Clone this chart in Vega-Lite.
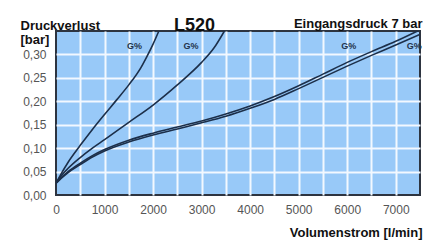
{
  "$schema": "https://vega.github.io/schema/vega-lite/v6.json",
  "width": 364,
  "height": 164,
  "autosize": {"type": "none"},
  "padding": {"left": 56, "top": 31, "right": 18, "bottom": 47},
  "background": "white",
  "config": {
    "font": "Liberation Sans",
    "view": {"fill": "#98c9f8", "stroke": "#2d3440", "strokeWidth": 2}
  },
  "title": {
    "text": "L520",
    "anchor": "start",
    "dx": 154,
    "dy": 18,
    "offset": 0,
    "fontSize": 18,
    "fontWeight": "bold",
    "color": "#111111",
    "font": "Liberation Sans"
  },
  "datasets": {
    "curves": [
      {"q": 0, "p": 0.025, "c": "A"},
      {"q": 100, "p": 0.044, "c": "A"},
      {"q": 250, "p": 0.07, "c": "A"},
      {"q": 500, "p": 0.106, "c": "A"},
      {"q": 750, "p": 0.14, "c": "A"},
      {"q": 1000, "p": 0.172, "c": "A"},
      {"q": 1250, "p": 0.203, "c": "A"},
      {"q": 1500, "p": 0.235, "c": "A"},
      {"q": 1750, "p": 0.272, "c": "A"},
      {"q": 1875, "p": 0.296, "c": "A"},
      {"q": 2000, "p": 0.322, "c": "A"},
      {"q": 2120, "p": 0.35, "c": "A"},
      {"q": 0, "p": 0.025, "c": "B"},
      {"q": 100, "p": 0.04, "c": "B"},
      {"q": 250, "p": 0.057, "c": "B"},
      {"q": 500, "p": 0.08, "c": "B"},
      {"q": 750, "p": 0.1, "c": "B"},
      {"q": 1000, "p": 0.118, "c": "B"},
      {"q": 1500, "p": 0.155, "c": "B"},
      {"q": 2000, "p": 0.192, "c": "B"},
      {"q": 2500, "p": 0.235, "c": "B"},
      {"q": 3000, "p": 0.283, "c": "B"},
      {"q": 3250, "p": 0.313, "c": "B"},
      {"q": 3470, "p": 0.35, "c": "B"},
      {"q": 0, "p": 0.025, "c": "C"},
      {"q": 100, "p": 0.036, "c": "C"},
      {"q": 250, "p": 0.05, "c": "C"},
      {"q": 500, "p": 0.068, "c": "C"},
      {"q": 750, "p": 0.084, "c": "C"},
      {"q": 1000, "p": 0.097, "c": "C"},
      {"q": 1500, "p": 0.117, "c": "C"},
      {"q": 2000, "p": 0.132, "c": "C"},
      {"q": 2500, "p": 0.145, "c": "C"},
      {"q": 3000, "p": 0.158, "c": "C"},
      {"q": 3500, "p": 0.173, "c": "C"},
      {"q": 4000, "p": 0.19, "c": "C"},
      {"q": 4500, "p": 0.21, "c": "C"},
      {"q": 5000, "p": 0.233, "c": "C"},
      {"q": 5500, "p": 0.258, "c": "C"},
      {"q": 6000, "p": 0.283, "c": "C"},
      {"q": 6500, "p": 0.306, "c": "C"},
      {"q": 7000, "p": 0.328, "c": "C"},
      {"q": 7450, "p": 0.35, "c": "C"},
      {"q": 0, "p": 0.025, "c": "D"},
      {"q": 100, "p": 0.035, "c": "D"},
      {"q": 250, "p": 0.048, "c": "D"},
      {"q": 500, "p": 0.065, "c": "D"},
      {"q": 750, "p": 0.081, "c": "D"},
      {"q": 1000, "p": 0.094, "c": "D"},
      {"q": 1500, "p": 0.113, "c": "D"},
      {"q": 2000, "p": 0.128, "c": "D"},
      {"q": 2500, "p": 0.141, "c": "D"},
      {"q": 3000, "p": 0.154, "c": "D"},
      {"q": 3500, "p": 0.168, "c": "D"},
      {"q": 4000, "p": 0.185, "c": "D"},
      {"q": 4500, "p": 0.204, "c": "D"},
      {"q": 5000, "p": 0.227, "c": "D"},
      {"q": 5500, "p": 0.251, "c": "D"},
      {"q": 6000, "p": 0.275, "c": "D"},
      {"q": 6500, "p": 0.298, "c": "D"},
      {"q": 7000, "p": 0.32, "c": "D"},
      {"q": 7500, "p": 0.343, "c": "D"}
    ],
    "labels": [
      {"q": 1620, "p": 0.318, "t": "G%"},
      {"q": 2780, "p": 0.318, "t": "G%"},
      {"q": 6030, "p": 0.318, "t": "G%"},
      {"q": 7380, "p": 0.318, "t": "G%"}
    ]
  },
  "encoding": {
    "y": {
      "field": "p",
      "type": "quantitative",
      "scale": {"domain": [0, 0.35], "nice": false},
      "axis": {
        "values": [0, 0.05, 0.1, 0.15, 0.2, 0.25, 0.3],
        "labelExpr": "replace(format(datum.value, '.2f'), '.', ',')",
        "labelOverlap": false,
        "grid": true,
        "gridColor": {"condition": {"test": "datum.value === 0", "value": "rgba(0,0,0,0)"}, "value": "#f2f8ff"},
        "gridWidth": 2,
        "ticks": false,
        "domain": false,
        "labelPadding": 10,
        "labelFontSize": 12,
        "labelColor": "#555555",
        "labelFont": "Liberation Sans",
        "title": ["Druckverlust", "[bar]"],
        "titleAngle": 0,
        "titleAlign": "left",
        "titleBaseline": "top",
        "titleX": -36,
        "titleY": -12,
        "titleLineHeight": 14,
        "titleFontSize": 13,
        "titleFontWeight": "bold",
        "titleColor": "#111111",
        "titleFont": "Liberation Sans"
      }
    }
  },
  "layer": [
    {
      "data": {"name": "curves"},
      "mark": {"type": "line", "interpolate": "monotone", "color": "#1c2f4a", "strokeWidth": 1.6, "clip": true},
      "encoding": {
        "x": {
          "field": "q",
          "type": "quantitative",
          "scale": {"domain": [0, 7500], "nice": false, "zero": false},
          "axis": {
            "orient": "bottom",
            "values": [0, 1000, 2000, 3000, 4000, 5000, 6000, 7000],
            "format": "d",
            "grid": false,
            "ticks": false,
            "domain": false,
            "labelFlush": false,
            "labelOverlap": false,
            "labelPadding": 9,
            "labelFontSize": 12,
            "labelColor": "#555555",
            "labelFont": "Liberation Sans",
            "title": "Volumenstrom [l/min]",
            "titleX": 366,
            "titleY": 41,
            "titleAlign": "right",
            "titleBaseline": "alphabetic",
            "titleFontSize": 13,
            "titleFontWeight": "bold",
            "titleColor": "#111111",
            "titleFont": "Liberation Sans"
          }
        },
        "detail": {"field": "c", "type": "nominal"}
      }
    },
    {
      "data": {"name": "labels"},
      "mark": {"type": "text", "fontSize": 9, "fontWeight": "bold", "color": "#23344c", "font": "Liberation Sans"},
      "encoding": {
        "x": {
          "field": "q",
          "type": "quantitative",
          "axis": {
            "orient": "top",
            "values": [500, 1000, 1500, 2000, 2500, 3000, 3500, 4000, 4500, 5000, 5500, 6000, 6500, 7000],
            "grid": true,
            "gridColor": "#f2f8ff",
            "gridWidth": 2,
            "labels": false,
            "ticks": false,
            "domain": false,
            "title": "Eingangsdruck 7 bar",
            "titleX": 366,
            "titleY": -4,
            "titleAlign": "right",
            "titleBaseline": "alphabetic",
            "titleFontSize": 13,
            "titleFontWeight": "bold",
            "titleColor": "#111111",
            "titleFont": "Liberation Sans"
          }
        },
        "text": {"field": "t", "type": "nominal"}
      }
    }
  ],
  "resolve": {"axis": {"x": "independent"}}
}
